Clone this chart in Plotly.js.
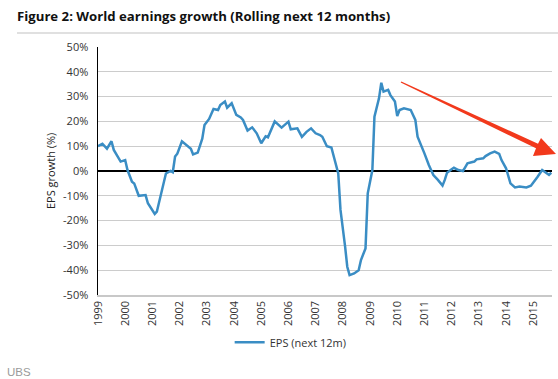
<!DOCTYPE html>
<html>
<head>
<meta charset="utf-8">
<script src="https://cdn.plot.ly/plotly-3.0.1.min.js"></script>
<style>
html,body{margin:0;padding:0;background:#fff;}
#chart{width:558px;height:379px;}
</style>
</head>
<body>
<div id="chart"></div>
<script>
// Dates (month) and EPS growth (next 12m), %
var dates = ["1999-01","1999-03","1999-05","1999-07","1999-08","1999-11","2000-01","2000-02","2000-04","2000-05",
"2000-07","2000-10","2000-11","2001-02","2001-03","2001-05","2001-07","2001-09","2001-10","2001-11",
"2001-12","2002-02","2002-04","2002-06","2002-07","2002-09","2002-11","2002-12","2003-02","2003-04",
"2003-06","2003-07","2003-09","2003-10","2003-12","2004-02","2004-04","2004-05","2004-07","2004-09",
"2004-11","2005-01","2005-03","2005-04","2005-07","2005-08","2005-10","2006-01","2006-02","2006-05",
"2006-07","2006-09","2006-11","2007-01","2007-03","2007-04","2007-06","2007-08","2007-10","2007-11",
"2007-12","2008-01","2008-02","2008-03","2008-04","2008-06","2008-08","2008-09","2008-11","2008-12",
"2009-02","2009-03","2009-05","2009-06","2009-07","2009-09","2009-10","2009-12","2010-01","2010-02",
"2010-04","2010-07","2010-09","2010-10","2010-12","2011-01","2011-03","2011-05","2011-07","2011-09",
"2011-10","2011-11","2012-01","2012-02","2012-04","2012-06","2012-07","2012-08","2012-11","2012-12",
"2013-03","2013-04","2013-06","2013-08","2013-10","2013-11","2014-01","2014-03","2014-05","2014-07",
"2014-10","2014-12","2015-03","2015-04","2015-05","2015-07","2015-08","2015-09"];
var epsGrowth = [10,11,9,12,8.5,3.8,4.4,0.4,-4.3,-5,
-10,-9.7,-13,-17.3,-16.4,-9,-1,0,-0.5,5.8,
7,12,10.5,9,6.7,7.4,13,18.5,21,25,
24.6,26.6,28,25.5,27.3,22.6,21.6,20.6,16.3,17.6,
15.2,11.2,14,13.6,20,19.2,17.5,19.9,16.8,17.2,
13.8,15.8,17.2,15.2,14.5,13.8,10,9.5,3.1,-1,
-15.7,-22.5,-30.5,-38.6,-42,-41.3,-40,-35.9,-31.2,-9,
0.4,21.9,29.3,35.6,32,32.7,30.6,28,22.2,24.6,
25.3,24.6,20.6,13.8,9.8,7.1,2.4,-1.6,-3.6,-5.9,
-3.6,-0.7,0.7,1.3,0.4,0,1.5,3.1,3.8,4.7,
5.1,6,7.1,7.8,6.9,4.4,1.1,-5,-6.6,-6.3,
-6.6,-5.9,-2.3,-0.9,0.4,-0.9,-1.6,-0.7];
var yearLabels = ["1999","2000","2001","2002","2003","2004","2005","2006","2007","2008","2009","2010","2011","2012","2013","2014","2015"];
var yTicks = [-50,-40,-30,-20,-10,0,10,20,30,40,50];

var font = "'Open Sans', 'DejaVu Sans', sans-serif";

var trace = {
  x: dates.map(function(d){return d + "-01";}),
  y: epsGrowth,
  type: "scatter",
  mode: "lines",
  name: "EPS (next 12m)",
  line: {color: "#3a8dc4", width: 2.5}
};

var layout = {
  width: 558, height: 379,
  margin: {l: 98, r: 6, t: 47, b: 84},
  paper_bgcolor: "#fff", plot_bgcolor: "#fff",
  title: {
    text: "<b>Figure 2: World earnings growth (Rolling next 12 months)</b>",
    font: {family: font, size: 13.2, color: "#111"},
    xref: "container", yref: "container",
    x: 17/558, xanchor: "left",
    y: 1 - 16/379, yanchor: "middle"
  },
  showlegend: true,
  legend: {
    orientation: "h", x: 0.29, xanchor: "left", y: -0.132, yanchor: "top",
    font: {family: font, size: 11, color: "#333"}
  },
  xaxis: {
    type: "date",
    range: ["1999-01-01", "2015-09-10"],
    tickvals: yearLabels.map(function(y){return y + "-01-01";}),
    ticktext: yearLabels,
    tickangle: -90,
    tickfont: {family: font, size: 11, color: "#333"},
    showgrid: false,
    showline: true, linecolor: "#c8c8c8", linewidth: 1.5,
    ticks: "", zeroline: false, fixedrange: true
  },
  yaxis: {
    range: [-50, 50],
    tickvals: yTicks,
    ticktext: yTicks.map(function(v){return v + "%";}),
    tickfont: {family: font, size: 11, color: "#333"},
    ticklabelstandoff: 6,
    showgrid: true, gridcolor: "#cccccc", gridwidth: 1,
    zeroline: true, zerolinecolor: "#000", zerolinewidth: 2.2,
    showline: true, linecolor: "#000", linewidth: 1.5,
    ticks: "", ticklen: 0,
    fixedrange: true
  },
  shapes: [
    {type: "line", xref: "paper", yref: "paper", x0: -81/454, x1: 460/454, y0: (295-33)/248, y1: (295-33)/248,
     line: {color: "#d6d6d6", width: 1.5}},
    {type: "path", xref: "paper", yref: "paper", fillcolor: "#f2391c", line: {width: 0},
     path: "M 0.6681 0.8613 L 0.9692 0.6101 L 0.9758 0.6331 L 1.0088 0.5685 L 0.9581 0.5605 L 0.9648 0.5915 L 0.6667 0.8565 Z"}
  ],
  annotations: [
    {text: "EPS growth (%)", xref: "paper", yref: "paper", x: (50-98)/454, y: 0.5, xanchor: "center", yanchor: "middle",
     textangle: -90, showarrow: false, font: {family: font, size: 11, color: "#222"}},
    {text: "UBS", xref: "paper", yref: "paper", x: (5-98)/454, y: (295-372)/248, xanchor: "left", yanchor: "middle",
     showarrow: false, font: {family: "'Liberation Sans', Arial, sans-serif", size: 11.5, color: "#9a9a9a"}}
  ]
};

Plotly.newPlot("chart", [trace], layout, {displayModeBar: false, staticPlot: true});
</script>
</body>
</html>
